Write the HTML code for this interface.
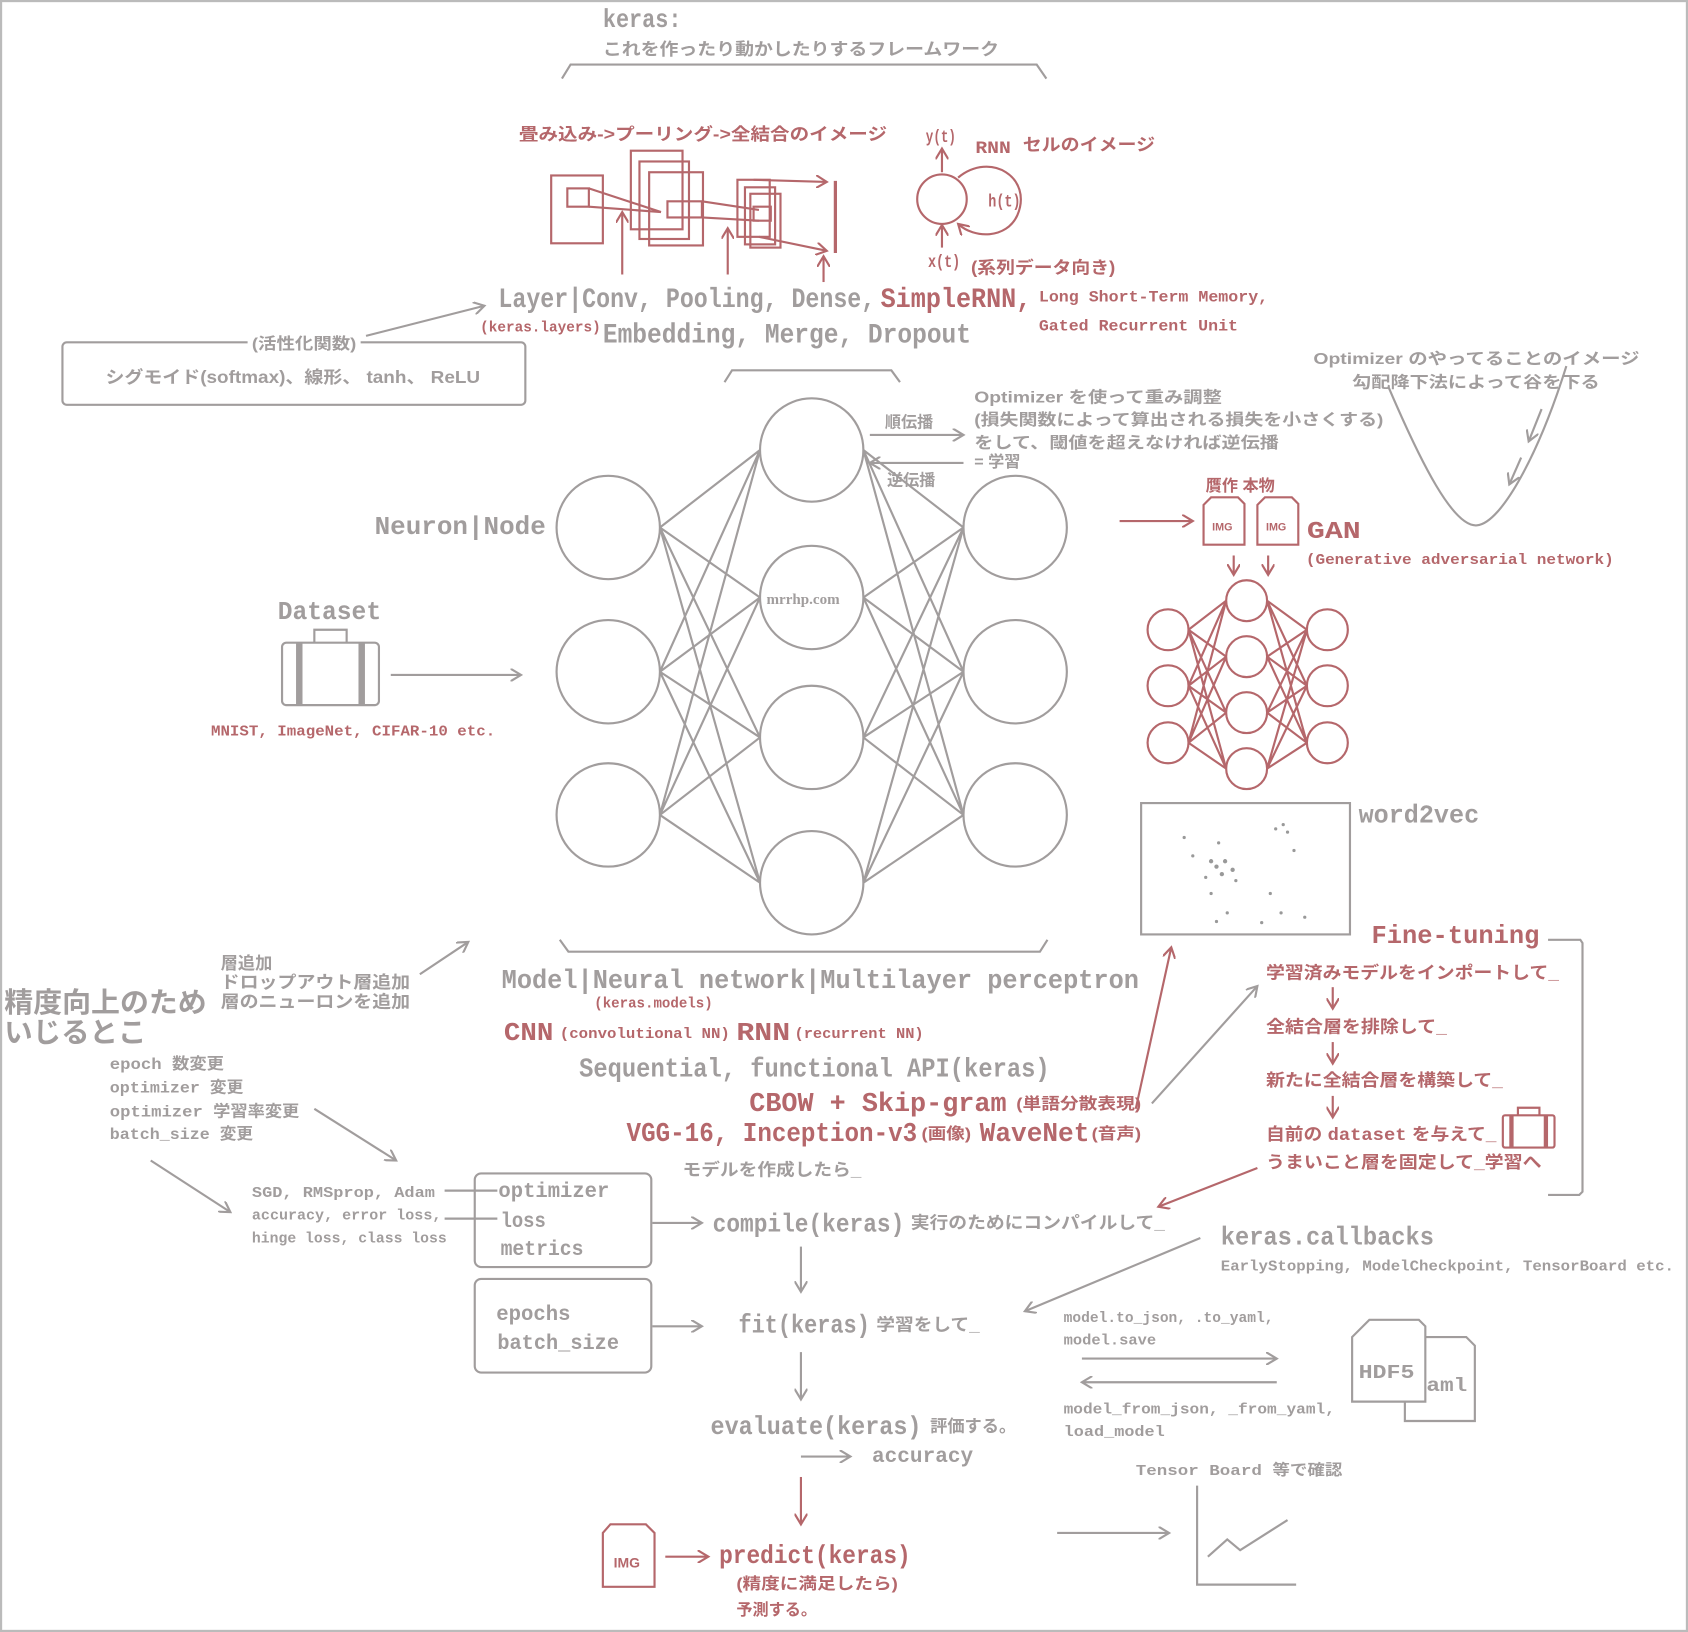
<!DOCTYPE html>
<html><head><meta charset="utf-8"><style>
html,body{margin:0;padding:0;background:#fff}
svg{display:block}
text{font-family:"Liberation Mono","Noto Sans CJK JP",monospace;font-weight:bold;fill:#a19d9d}
.r{fill:#b5676b}
.j{font-family:"Liberation Sans","Noto Sans CJK JP",sans-serif;font-weight:bold}
.g{stroke:#a19d9d;fill:none;stroke-width:2}
.rs{stroke:#b5676b;fill:none;stroke-width:2}
</style></head><body>
<svg width="1688" height="1632" viewBox="0 0 1568 1516" preserveAspectRatio="none" xmlns="http://www.w3.org/2000/svg">
<defs>
<marker id="a" markerWidth="12" markerHeight="12" refX="10" refY="6" orient="auto" markerUnits="userSpaceOnUse"><path d="M0,0 L10,6 L0,12" fill="none" stroke="#a19d9d" stroke-width="2"/></marker>
<marker id="ar" markerWidth="12" markerHeight="12" refX="10" refY="6" orient="auto" markerUnits="userSpaceOnUse"><path d="M0,0 L10,6 L0,12" fill="none" stroke="#b5676b" stroke-width="2"/></marker>
</defs>
<rect x="1" y="1" width="1566" height="1514" fill="#fff" stroke="#bbb" stroke-width="2"/>

<text x="560" y="25" font-size="24" textLength="73" lengthAdjust="spacingAndGlyphs">keras:</text>
<text x="560" y="51" font-size="16" class="j" textLength="368" lengthAdjust="spacingAndGlyphs">これを作ったり動かしたりするフレームワーク</text>
<path class="g" d="M522,73 L530,60 L963,60 L972,73"/>

<text x="482" y="130" font-size="16" class="j r" textLength="342" lengthAdjust="spacingAndGlyphs">畳み込み->プーリング->全結合のイメージ</text>
<g class="rs" stroke-width="1.5">
<rect x="512" y="163" width="48" height="63"/><rect x="527" y="175" width="20" height="17"/>
<rect x="586" y="140" width="48" height="73"/><rect x="594" y="150" width="46" height="72"/><rect x="603" y="160" width="50" height="68"/>
<rect x="620" y="187" width="32" height="15"/>
<line x1="547" y1="175" x2="614" y2="197"/><line x1="547" y1="192" x2="614" y2="197"/>
<rect x="685" y="167" width="30" height="53"/><rect x="692" y="174" width="28" height="53"/><rect x="697" y="180" width="28" height="50"/>
<rect x="700" y="192" width="16" height="13"/>
<line x1="652" y1="187" x2="705" y2="195"/><line x1="652" y1="202" x2="705" y2="205"/>
<line x1="700" y1="167" x2="768" y2="169" marker-end="url(#ar)"/><line x1="705" y1="220" x2="768" y2="233" marker-end="url(#ar)"/>
<line x1="776" y1="168" x2="776" y2="235" stroke-width="3"/>
<line x1="578" y1="255" x2="578" y2="197" marker-end="url(#ar)"/>
<line x1="676" y1="255" x2="676" y2="212" marker-end="url(#ar)"/>
<line x1="765" y1="262" x2="765" y2="238" marker-end="url(#ar)"/>
</g>
<text x="860" y="132" font-size="16" class="r" textLength="28" lengthAdjust="spacingAndGlyphs">y(t)</text>
<text x="906" y="142" font-size="16" class="r" textLength="33" lengthAdjust="spacingAndGlyphs">RNN</text>
<text x="950" y="140" font-size="16" class="j r" textLength="123" lengthAdjust="spacingAndGlyphs">セルのイメージ</text>
<circle cx="875" cy="185" r="23" class="rs"/>
<line x1="875" y1="160" x2="875" y2="138" class="rs" marker-end="url(#ar)"/>
<line x1="875" y1="230" x2="875" y2="209" class="rs" marker-end="url(#ar)"/>
<path class="rs" d="M890,165 C920,140 960,165 945,200 C935,222 905,222 890,208" marker-end="url(#ar)"/>
<text x="918" y="192" font-size="16" class="r" textLength="30" lengthAdjust="spacingAndGlyphs">h(t)</text>
<text x="862" y="248" font-size="16" class="r" textLength="30" lengthAdjust="spacingAndGlyphs">x(t)</text>
<text x="902" y="254" font-size="16" class="j r" textLength="134" lengthAdjust="spacingAndGlyphs">(系列データ向き)</text>

<text x="463" y="285" font-size="26" textLength="350" lengthAdjust="spacingAndGlyphs">Layer|Conv, Pooling, Dense,</text>
<text x="818" y="285" font-size="26" class="r" textLength="140" lengthAdjust="spacingAndGlyphs">SimpleRNN,</text>
<text x="965" y="280" font-size="15" class="r" textLength="213" lengthAdjust="spacingAndGlyphs">Long Short-Term Memory,</text>
<text x="965" y="307" font-size="15" class="r" textLength="185" lengthAdjust="spacingAndGlyphs">Gated Recurrent Unit</text>
<text x="446" y="308" font-size="14" class="r" textLength="112" lengthAdjust="spacingAndGlyphs">(keras.layers)</text>
<text x="560" y="318" font-size="26" textLength="342" lengthAdjust="spacingAndGlyphs">Embedding, Merge, Dropout</text>
<line x1="340" y1="312" x2="450" y2="284" class="g" marker-end="url(#a)"/>
<rect x="58" y="318" width="430" height="58" rx="4" class="g" stroke-width="1.5"/>
<rect x="230" y="308" width="105" height="20" fill="#fff"/>
<text x="234" y="324" font-size="15" class="j" textLength="97" lengthAdjust="spacingAndGlyphs">(活性化関数)</text>
<text x="98" y="356" font-size="16" class="j" textLength="348" lengthAdjust="spacingAndGlyphs">シグモイド(softmax)、線形、 tanh、 ReLU</text>

<path class="g" d="M673,355 L680,344 L828,344 L836,355"/>

<g class="g" stroke-width="1.5">
<circle cx="565" cy="490" r="48"/><circle cx="565" cy="624" r="48"/><circle cx="565" cy="757" r="48"/>
<circle cx="754" cy="418" r="48"/><circle cx="754" cy="555" r="48"/><circle cx="754" cy="685" r="48"/><circle cx="754" cy="820" r="48"/>
<circle cx="943" cy="490" r="48"/><circle cx="943" cy="624" r="48"/><circle cx="943" cy="757" r="48"/>
<path d="M613,490L706,418M613,490L706,555M613,490L706,685M613,490L706,820
M613,624L706,418M613,624L706,555M613,624L706,685M613,624L706,820
M613,757L706,418M613,757L706,555M613,757L706,685M613,757L706,820
M895,490L802,418M895,490L802,555M895,490L802,685M895,490L802,820
M895,624L802,418M895,624L802,555M895,624L802,685M895,624L802,820
M895,757L802,418M895,757L802,555M895,757L802,685M895,757L802,820"/>
</g>
<text x="712" y="561" font-size="14" font-weight="normal" style="font-family:'Liberation Serif',serif">mrrhp.com</text>
<text x="348" y="496" font-size="24" textLength="159" lengthAdjust="spacingAndGlyphs">Neuron|Node</text>
<line x1="808" y1="404" x2="895" y2="404" class="g" stroke-width="3" marker-end="url(#a)"/>
<text x="822" y="397" font-size="15" class="j">順伝播</text>
<line x1="895" y1="430" x2="808" y2="430" class="g" stroke-width="3" marker-end="url(#a)"/>
<text x="824" y="451" font-size="15" class="j">逆伝播</text>
<text x="905" y="374" font-size="15" class="j" textLength="230" lengthAdjust="spacingAndGlyphs">Optimizer を使って重み調整</text>
<text x="905" y="395" font-size="15" class="j" textLength="380" lengthAdjust="spacingAndGlyphs">(損失関数によって算出される損失を小さくする)</text>
<text x="905" y="416" font-size="15" class="j" textLength="283" lengthAdjust="spacingAndGlyphs">をして、閾値を超えなければ逆伝播</text>
<text x="905" y="434" font-size="15" class="j">= 学習</text>

<text x="1220" y="338" font-size="15" class="j" textLength="303" lengthAdjust="spacingAndGlyphs">Optimizer のやってることのイメージ</text>
<text x="1256" y="360" font-size="15" class="j" textLength="230" lengthAdjust="spacingAndGlyphs">勾配降下法によって谷を下る</text>
<path class="g" d="M1290,360 C1320,430 1350,490 1372,488 C1395,486 1430,420 1455,340"/>
<line x1="1432" y1="380" x2="1420" y2="410" class="g" marker-end="url(#a)"/>
<line x1="1413" y1="425" x2="1402" y2="450" class="g" marker-end="url(#a)"/>

<text x="258" y="575" font-size="24" textLength="96" lengthAdjust="spacingAndGlyphs">Dataset</text>
<g class="g" stroke-width="3">
<rect x="262" y="597" width="90" height="58" rx="4"/>
<path d="M292,597 L292,585 L322,585 L322,597"/>
<line x1="278" y1="597" x2="278" y2="655" stroke-width="6"/><line x1="336" y1="597" x2="336" y2="655" stroke-width="6"/>
</g>
<line x1="363" y1="627" x2="484" y2="627" class="g" marker-end="url(#a)"/>
<text x="196" y="683" font-size="14" class="r" textLength="264" lengthAdjust="spacingAndGlyphs">MNIST, ImageNet, CIFAR-10 etc.</text>

<text x="1120" y="456" font-size="15" class="j r">贋作 本物</text>
<line x1="1040" y1="484" x2="1108" y2="484" class="rs" marker-end="url(#ar)"/>
<g class="rs" stroke-width="2.5">
<path d="M1125,462 L1150,462 L1156,468 L1156,506 L1118,506 L1118,469 Z"/>
<path d="M1175,462 L1200,462 L1206,468 L1206,506 L1168,506 L1168,469 Z"/>
</g>
<text x="1126" y="493" font-size="10" class="r" style="font-family:'Liberation Sans',sans-serif">IMG</text>
<text x="1176" y="493" font-size="10" class="r" style="font-family:'Liberation Sans',sans-serif">IMG</text>
<text x="1214" y="500" font-size="22" class="r" textLength="50" lengthAdjust="spacingAndGlyphs">GAN</text>
<text x="1213" y="524" font-size="14" class="r" textLength="286" lengthAdjust="spacingAndGlyphs">(Generative adversarial network)</text>
<line x1="1146" y1="516" x2="1146" y2="534" class="rs" marker-end="url(#ar)"/>
<line x1="1178" y1="516" x2="1178" y2="534" class="rs" marker-end="url(#ar)"/>
<g class="rs" stroke-width="1.5">
<circle cx="1085" cy="585" r="19"/><circle cx="1085" cy="637" r="19"/><circle cx="1085" cy="690" r="19"/>
<circle cx="1158" cy="558" r="19"/><circle cx="1158" cy="610" r="19"/><circle cx="1158" cy="662" r="19"/><circle cx="1158" cy="714" r="19"/>
<circle cx="1233" cy="585" r="19"/><circle cx="1233" cy="637" r="19"/><circle cx="1233" cy="690" r="19"/>
<path d="M1104,585L1139,558M1104,585L1139,610M1104,585L1139,662M1104,585L1139,714
M1104,637L1139,558M1104,637L1139,610M1104,637L1139,662M1104,637L1139,714
M1104,690L1139,558M1104,690L1139,610M1104,690L1139,662M1104,690L1139,714
M1214,585L1177,558M1214,585L1177,610M1214,585L1177,662M1214,585L1177,714
M1214,637L1177,558M1214,637L1177,610M1214,637L1177,662M1214,637L1177,714
M1214,690L1177,558M1214,690L1177,610M1214,690L1177,662M1214,690L1177,714"/>
</g>

<rect x="1060" y="746" width="194" height="122" class="g" stroke-width="1.5"/>
<g fill="#999">
<circle cx="1100" cy="778" r="1.5"/><circle cx="1108" cy="795" r="1.5"/><circle cx="1132" cy="783" r="1.5"/><circle cx="1125" cy="800" r="2"/><circle cx="1130" cy="805" r="2"/><circle cx="1138" cy="800" r="2"/><circle cx="1145" cy="808" r="2"/><circle cx="1135" cy="812" r="2"/><circle cx="1120" cy="815" r="1.5"/><circle cx="1148" cy="818" r="1.5"/><circle cx="1185" cy="770" r="1.5"/><circle cx="1192" cy="766" r="1.5"/><circle cx="1196" cy="773" r="1.5"/><circle cx="1202" cy="790" r="1.5"/><circle cx="1125" cy="830" r="1.5"/><circle cx="1180" cy="830" r="1.5"/><circle cx="1140" cy="848" r="1.5"/><circle cx="1130" cy="856" r="1.5"/><circle cx="1172" cy="857" r="1.5"/><circle cx="1190" cy="848" r="1.5"/><circle cx="1212" cy="852" r="1.5"/>
</g>
<text x="1262" y="764" font-size="24" textLength="112" lengthAdjust="spacingAndGlyphs">word2vec</text>

<path class="g" d="M520,873 L528,884 L966,884 L973,873"/>
<text x="466" y="918" font-size="25" textLength="592" lengthAdjust="spacingAndGlyphs">Model|Neural network|Multilayer perceptron</text>
<text x="552" y="936" font-size="14" class="r" textLength="110" lengthAdjust="spacingAndGlyphs">(keras.models)</text>
<text x="468" y="966" font-size="24" class="r" textLength="46" lengthAdjust="spacingAndGlyphs">CNN</text>
<text x="520" y="964" font-size="14" class="r" textLength="158" lengthAdjust="spacingAndGlyphs">(convolutional NN)</text>
<text x="684" y="966" font-size="24" class="r" textLength="50" lengthAdjust="spacingAndGlyphs">RNN</text>
<text x="738" y="964" font-size="14" class="r" textLength="120" lengthAdjust="spacingAndGlyphs">(recurrent NN)</text>
<text x="538" y="1000" font-size="25" textLength="437" lengthAdjust="spacingAndGlyphs">Sequential, functional API(keras)</text>
<text x="696" y="1032" font-size="25" class="r" textLength="239" lengthAdjust="spacingAndGlyphs">CBOW + Skip-gram</text>
<text x="944" y="1030" font-size="15" class="j r" textLength="116" lengthAdjust="spacingAndGlyphs">(単語分散表現)</text>
<text x="582" y="1060" font-size="25" class="r" textLength="270" lengthAdjust="spacingAndGlyphs">VGG-16, Inception-v3</text>
<text x="856" y="1058" font-size="15" class="j r" textLength="46" lengthAdjust="spacingAndGlyphs">(画像)</text>
<text x="910" y="1060" font-size="25" class="r" textLength="102" lengthAdjust="spacingAndGlyphs">WaveNet</text>
<text x="1014" y="1058" font-size="15" class="j r" textLength="46" lengthAdjust="spacingAndGlyphs">(音声)</text>
<text x="634" y="1092" font-size="16" class="j" textLength="166" lengthAdjust="spacingAndGlyphs">モデルを作成したら_</text>
<line x1="1055" y1="1030" x2="1088" y2="880" class="rs" marker-end="url(#ar)"/>
<line x1="1070" y1="1025" x2="1168" y2="916" class="g" marker-end="url(#a)"/>

<text x="4" y="940" font-size="26" class="j" textLength="188" lengthAdjust="spacingAndGlyphs">精度向上のため</text>
<text x="4" y="968" font-size="26" class="j" textLength="132" lengthAdjust="spacingAndGlyphs">いじるとこ</text>
<text x="205" y="900" font-size="16" class="j">層追加</text>
<text x="205" y="918" font-size="16" class="j" textLength="176" lengthAdjust="spacingAndGlyphs">ドロップアウト層追加</text>
<text x="205" y="936" font-size="16" class="j" textLength="176" lengthAdjust="spacingAndGlyphs">層のニューロンを追加</text>
<line x1="390" y1="905" x2="435" y2="875" class="g" marker-end="url(#a)"/>
<text x="102" y="993" font-size="15" textLength="106" lengthAdjust="spacingAndGlyphs">epoch <tspan class="j">数変更</tspan></text>
<text x="102" y="1015" font-size="15" textLength="124" lengthAdjust="spacingAndGlyphs">optimizer <tspan class="j">変更</tspan></text>
<text x="102" y="1037" font-size="15" textLength="176" lengthAdjust="spacingAndGlyphs">optimizer <tspan class="j">学習率変更</tspan></text>
<text x="102" y="1058" font-size="15" textLength="133" lengthAdjust="spacingAndGlyphs">batch_size <tspan class="j">変更</tspan></text>
<line x1="292" y1="1030" x2="368" y2="1078" class="g" marker-end="url(#a)"/>
<line x1="140" y1="1078" x2="214" y2="1126" class="g" marker-end="url(#a)"/>
<text x="234" y="1112" font-size="14" textLength="170" lengthAdjust="spacingAndGlyphs">SGD, RMSprop, Adam</text>
<text x="234" y="1133" font-size="14" textLength="176" lengthAdjust="spacingAndGlyphs">accuracy, error loss,</text>
<text x="234" y="1154" font-size="14" textLength="181" lengthAdjust="spacingAndGlyphs">hinge loss, class loss</text>
<line x1="413" y1="1106" x2="462" y2="1106" class="g"/>
<line x1="413" y1="1132" x2="462" y2="1132" class="g"/>
<rect x="441" y="1090" width="164" height="87" rx="6" class="g"/>
<text x="463" y="1112" font-size="20" textLength="103" lengthAdjust="spacingAndGlyphs">optimizer</text>
<text x="465" y="1140" font-size="20" textLength="42" lengthAdjust="spacingAndGlyphs">loss</text>
<text x="465" y="1166" font-size="20" textLength="77" lengthAdjust="spacingAndGlyphs">metrics</text>
<line x1="606" y1="1136" x2="652" y2="1136" class="g" marker-end="url(#a)"/>
<text x="662" y="1144" font-size="24" textLength="178" lengthAdjust="spacingAndGlyphs">compile(keras)</text>
<text x="846" y="1141" font-size="16" class="j" textLength="236" lengthAdjust="spacingAndGlyphs">実行のためにコンパイルして_</text>
<line x1="744" y1="1158" x2="744" y2="1200" class="g" stroke-width="3" marker-end="url(#a)"/>
<rect x="441" y="1188" width="164" height="87" rx="6" class="g"/>
<text x="461" y="1226" font-size="20" textLength="69" lengthAdjust="spacingAndGlyphs">epochs</text>
<text x="462" y="1253" font-size="20" textLength="113" lengthAdjust="spacingAndGlyphs">batch_size</text>
<line x1="606" y1="1232" x2="652" y2="1232" class="g" marker-end="url(#a)"/>
<text x="686" y="1238" font-size="24" textLength="122" lengthAdjust="spacingAndGlyphs">fit(keras)</text>
<text x="814" y="1236" font-size="16" class="j" textLength="96" lengthAdjust="spacingAndGlyphs">学習をして_</text>
<line x1="744" y1="1256" x2="744" y2="1300" class="g" stroke-width="3" marker-end="url(#a)"/>
<text x="660" y="1332" font-size="24" textLength="196" lengthAdjust="spacingAndGlyphs">evaluate(keras)</text>
<text x="864" y="1330" font-size="16" class="j" textLength="80" lengthAdjust="spacingAndGlyphs">評価する。</text>
<line x1="744" y1="1353" x2="790" y2="1353" class="g" marker-end="url(#a)"/>
<text x="810" y="1358" font-size="20" textLength="94" lengthAdjust="spacingAndGlyphs">accuracy</text>
<line x1="744" y1="1372" x2="744" y2="1416" class="rs" stroke-width="3" marker-end="url(#ar)"/>
<path d="M567,1416 L600,1416 L608,1424 L608,1474 L560,1474 L560,1424 Z" class="rs" stroke-width="3"/>
<text x="570" y="1456" font-size="13" class="r" style="font-family:'Liberation Sans',sans-serif">IMG</text>
<line x1="618" y1="1446" x2="658" y2="1446" class="rs" marker-end="url(#ar)"/>
<text x="668" y="1452" font-size="24" class="r" textLength="178" lengthAdjust="spacingAndGlyphs">predict(keras)</text>
<text x="684" y="1476" font-size="15" class="j r" textLength="150" lengthAdjust="spacingAndGlyphs">(精度に満足したら)</text>
<text x="684" y="1500" font-size="15" class="j r">予測する。</text>

<text x="1274" y="876" font-size="24" class="r" textLength="156" lengthAdjust="spacingAndGlyphs">Fine-tuning</text>
<path class="g" d="M1438,873 L1468,873 L1470,876 L1470,1107 L1467,1110 L1438,1110"/>
<text x="1176" y="909" font-size="16" class="j r" textLength="272" lengthAdjust="spacingAndGlyphs">学習済みモデルをインポートして_</text>
<line x1="1238" y1="917" x2="1238" y2="937" class="rs" marker-end="url(#ar)"/>
<text x="1176" y="959" font-size="16" class="j r" textLength="168" lengthAdjust="spacingAndGlyphs">全結合層を排除して_</text>
<line x1="1238" y1="968" x2="1238" y2="988" class="rs" marker-end="url(#ar)"/>
<text x="1176" y="1009" font-size="16" class="j r" textLength="220" lengthAdjust="spacingAndGlyphs">新たに全結合層を構築して_</text>
<line x1="1238" y1="1018" x2="1238" y2="1038" class="rs" marker-end="url(#ar)"/>
<text x="1176" y="1059" font-size="16" class="j r" textLength="214" lengthAdjust="spacingAndGlyphs">自前の <tspan style="font-family:'Liberation Mono',monospace">dataset</tspan> を与えて_</text>
<g class="rs" stroke-width="2.5"><rect x="1396" y="1036" width="48" height="30" rx="2"/><path d="M1410,1036 L1410,1029 L1430,1029 L1430,1036"/><line x1="1404" y1="1036" x2="1404" y2="1066" stroke-width="4"/><line x1="1436" y1="1036" x2="1436" y2="1066" stroke-width="4"/></g>
<text x="1176" y="1085" font-size="16" class="j r" textLength="256" lengthAdjust="spacingAndGlyphs">うまいこと層を固定して_学習へ</text>
<line x1="1168" y1="1085" x2="1076" y2="1121" class="rs" marker-end="url(#ar)"/>

<text x="1134" y="1156" font-size="24" textLength="198" lengthAdjust="spacingAndGlyphs">keras.callbacks</text>
<text x="1134" y="1180" font-size="14" textLength="421" lengthAdjust="spacingAndGlyphs">EarlyStopping, ModelCheckpoint, TensorBoard etc.</text>
<line x1="1115" y1="1150" x2="952" y2="1218" class="g" marker-end="url(#a)"/>
<text x="988" y="1228" font-size="14" textLength="195" lengthAdjust="spacingAndGlyphs">model.to_json, .to_yaml,</text>
<text x="988" y="1249" font-size="14" textLength="86" lengthAdjust="spacingAndGlyphs">model.save</text>
<line x1="1005" y1="1262" x2="1186" y2="1262" class="g" stroke-width="3" marker-end="url(#a)"/>
<line x1="1186" y1="1284" x2="1005" y2="1284" class="g" stroke-width="3" marker-end="url(#a)"/>
<text x="988" y="1313" font-size="14" textLength="252" lengthAdjust="spacingAndGlyphs">model_from_json, _from_yaml,</text>
<text x="988" y="1334" font-size="14" textLength="94" lengthAdjust="spacingAndGlyphs">load_model</text>
<g class="g" stroke-width="4">
<path d="M1312,1242 L1362,1242 L1370,1250 L1370,1320 L1305,1320 L1305,1260" fill="#fff"/>
<path d="M1272,1226 L1318,1226 L1324,1232 L1324,1302 L1256,1302 L1256,1242 Z" fill="#fff"/>
</g>
<text x="1262" y="1280" font-size="18" textLength="52" lengthAdjust="spacingAndGlyphs">HDF5</text>
<text x="1325" y="1292" font-size="18" textLength="38" lengthAdjust="spacingAndGlyphs">aml</text>
<text x="1055" y="1370" font-size="14" textLength="192" lengthAdjust="spacingAndGlyphs">Tensor Board <tspan class="j">等で確認</tspan></text>
<line x1="982" y1="1424" x2="1086" y2="1424" class="g" marker-end="url(#a)"/>
<path class="g" stroke-width="3" d="M1112,1380 L1112,1472 L1204,1472"/>
<path class="g" stroke-width="4" d="M1122,1446 L1140,1430 L1152,1440 L1196,1412"/>
</svg>
</body></html>
